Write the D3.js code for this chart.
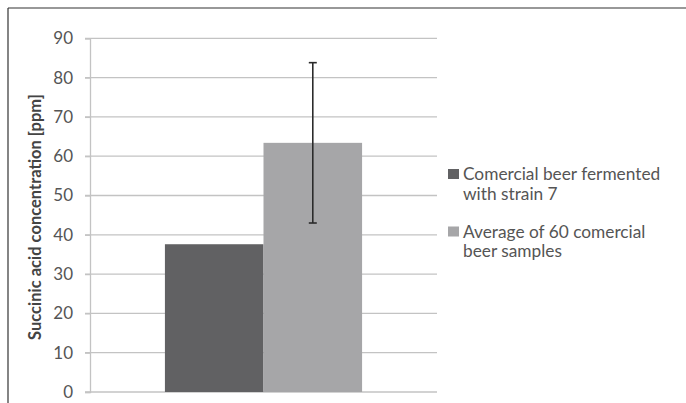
<!DOCTYPE html>
<html><head><meta charset="utf-8">
<script src="https://cdn.jsdelivr.net/npm/d3@7"></script>
<style>body{margin:0;background:#fff}svg{display:block}</style>
</head><body>
<script>
const categories = ["Comercial beer fermented with strain 7", "Average of 60 comercial beer samples"];
const legendLines = [["Comercial beer fermented", "with strain 7"], ["Average of 60 comercial", "beer samples"]];
const values = [37.6, 63.4];
const errors = [null, 20.4];
const yTicks = [0, 10, 20, 30, 40, 50, 60, 70, 80, 90];
const yTitle = "Succinic acid concentration [ppm]";
const colors = ["#616163", "#a6a6a8"];

const W = 686, H = 403;
const svg = d3.select("body").append("svg").attr("width", W).attr("height", H);
const font = "Lato, 'Open Sans', sans-serif";

// frame
svg.append("line").attr("x1", 8).attr("x2", W).attr("y1", 8).attr("y2", 8).attr("stroke", "#333").attr("stroke-width", 1.2);
svg.append("line").attr("x1", 8).attr("x2", 8).attr("y1", 8).attr("y2", H).attr("stroke", "#333").attr("stroke-width", 1.2);

const y = d3.scaleLinear().domain([0, 90]).range([392, 38.3]);
const x = d3.scaleBand().domain(categories).range([90, 437]).paddingInner(0).paddingOuter(0.76);

// gridlines
svg.append("g").selectAll("line").data(yTicks).join("line")
  .attr("x1", 85).attr("x2", 437).attr("y1", d => y(d)).attr("y2", d => y(d))
  .attr("stroke", "#c3c3c3").attr("stroke-width", 1.3);

// y axis
const yAxis = d3.axisLeft(y).tickValues(yTicks).tickSize(5).tickPadding(12);
const ga = svg.append("g").attr("transform", "translate(90,0)").call(yAxis);
ga.select(".domain").attr("stroke", "#c3c3c3").attr("stroke-width", 1.3);
ga.selectAll(".tick line").attr("stroke", "#c3c3c3").attr("stroke-width", 1.3);
ga.selectAll("text").attr("font-family", font).attr("font-size", 17).attr("fill", "#555");

// bars
svg.append("g").selectAll("rect").data(values).join("rect")
  .attr("x", (d, i) => x(categories[i])).attr("width", x.bandwidth())
  .attr("y", d => y(d)).attr("height", d => y(0) - y(d))
  .attr("fill", (d, i) => colors[i]);

// error bars
values.forEach((v, i) => {
  if (errors[i] == null) return;
  const cx = x(categories[i]) + x.bandwidth() / 2;
  const g = svg.append("g").attr("stroke", "#2b2b2b").attr("stroke-width", 1.6);
  g.append("line").attr("x1", cx).attr("x2", cx).attr("y1", y(v + errors[i])).attr("y2", y(v - errors[i]));
  [v + errors[i], v - errors[i]].forEach(e => g.append("line").attr("x1", cx - 4).attr("x2", cx + 4).attr("y1", y(e)).attr("y2", y(e)));
});

// y title
svg.append("text").attr("transform", "translate(41,217) rotate(-90)")
  .attr("text-anchor", "middle").attr("font-family", font).attr("font-weight", "bold")
  .attr("font-size", 16.5).attr("fill", "#444").text(yTitle);

// legend
const lg = svg.append("g");
legendLines.forEach((lines, i) => {
  const base = 180 + i * 57.5;
  lg.append("rect").attr("x", 448).attr("y", base - 11).attr("width", 11).attr("height", 10).attr("fill", colors[i]);
  lines.forEach((t, j) => {
    lg.append("text").attr("x", 463).attr("y", base + j * 19.5)
      .attr("font-family", font).attr("font-size", 17.3).attr("fill", "#555").text(t);
  });
});
</script>
</body></html>
